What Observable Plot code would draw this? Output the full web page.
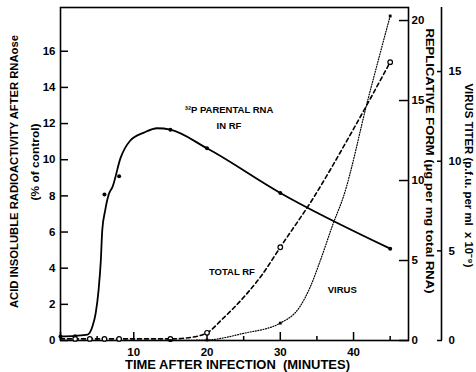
<!DOCTYPE html>
<html><head><meta charset="utf-8">
<script src="https://cdn.jsdelivr.net/npm/d3@7"></script>
<script src="https://cdn.jsdelivr.net/npm/@observablehq/plot@0.6"></script>
<style>
html,body{margin:0;padding:0;background:#fff;}
</style>
</head><body><div id="chart"></div>
<script>
// ---- data ----
// 32P parental RNA in RF (left axis, % of control)
const p32Time  = [0, 2, 6, 8, 15, 20, 30, 45];
const p32Value = [0.22, 0.24, 8.07, 9.08, 11.66, 10.63, 8.16, 5.08];
// hand-drawn smooth curve through the 32P points
const p32CurveTime  = [0, 2, 3.7, 4.4, 4.8, 5.2, 5.5, 5.7, 6.1, 6.6, 7.1, 8.2, 9.5, 11.4, 13.2, 15, 20, 30, 45];
const p32CurveValue = [0.22, 0.26, 0.33, 0.83, 1.5, 2.8, 4.4, 6.1, 7.2, 8.1, 8.5, 10.1, 11.05, 11.5, 11.74, 11.66, 10.63, 8.16, 5.08];
// total RF (replicative form axis, ug per mg total RNA)
const rfTime  = [2, 4, 6, 8, 15, 20, 30, 45];
const rfValue = [0.1, 0.1, 0.1, 0.1, 0.1, 0.48, 5.83, 17.4];
const rfCurveTime  = [0, 2, 4, 6, 8, 15, 17, 20, 22, 25, 27.5, 30, 34.5, 39.6, 45];
const rfCurveValue = [0.1, 0.1, 0.1, 0.1, 0.1, 0.1, 0.15, 0.48, 1.3, 2.7, 4.1, 5.83, 8.9, 12.9, 17.4];
// virus titer (p.f.u. per ml x 10^-9)
const virusTime  = [15, 20, 30, 45];
const virusValue = [0, 0.03, 0.97, 18.1];
const virusCurveTime  = [15, 20, 25, 30, 32.7, 34.1, 35.5, 37.2, 38.6, 42, 45];
const virusCurveValue = [0, 0.03, 0.4, 0.97, 1.9, 3.0, 4.5, 6.5, 8.0, 13.5, 18.1];

// ticks
const xMajorTicks = [0, 10, 20, 30, 40];
const xMinorTicks = [5, 15, 25, 35, 45];
const leftTicks  = [0, 2, 4, 6, 8, 10, 12, 14, 16];
const rfTicks    = [0, 5, 10, 15, 20];
const virusTicks = [0, 5, 10, 15];

// labels
const leftTitle  = "ACID INSOLUBLE RADIOACTIVITY AFTER RNAose";
const leftSub    = "(% of control)";
const rfTitle    = "REPLICATIVE FORM (µg per mg total RNA)";
const virusTitle = "VIRUS TITER (p.f.u. per ml\u00a0\u00a0x 10⁻⁹)";
const xTitle     = "TIME AFTER INFECTION\u00a0\u00a0(MINUTES)";
const noteText = ["³²P PARENTAL RNA", "IN RF", "TOTAL RF", "VIRUS"];
const noteTime = [23.0, 23.0, 23.4, 38.45];
const noteLevel = [12.75, 11.85, 3.77, 2.8];

// ---- scale setup ----
const xDomain = [0, 47.5];
const yDomain = [0, 18.42];
const kRF = 16 / 18.08;     // RF units -> left-axis units
const kV  = 17.93 / 18.08;  // virus units -> left-axis units

const p32 = p32Time.map((t, i) => ({t, v: p32Value[i]}));
const p32Curve = p32CurveTime.map((t, i) => ({t, v: p32CurveValue[i]}));
const rf = rfTime.map((t, i) => ({t, v: rfValue[i] * kRF}));
const rfCurve = rfCurveTime.map((t, i) => ({t, v: rfCurveValue[i] * kRF}));
const virus = virusTime.map((t, i) => ({t, v: virusValue[i] * kV}));
const virusCurve = virusCurveTime.map((t, i) => ({t, v: virusCurveValue[i] * kV}));
const notes = noteText.map((text, i) => ({text, t: noteTime[i], v: noteLevel[i]}));

const font = "'Liberation Sans', Arial, Helvetica, sans-serif";

const chart = Plot.plot({
  width: 476, height: 372,
  marginLeft: 60, marginRight: 68, marginTop: 7, marginBottom: 32,
  x: {domain: xDomain},
  y: {domain: yDomain},
  style: {fontFamily: font, fontWeight: "bold", fontSize: "11px", background: "white", color: "black", overflow: "visible"},
  marks: [
    Plot.frame({stroke: "black", strokeWidth: 1.6}),
    Plot.ruleX([xDomain[1]], {dx: 33, stroke: "black", strokeWidth: 1.6}),
    // x axis (ticks inward)
    Plot.axisX(xMajorTicks, {anchor: "bottom", label: null, tickSize: -8, tickPadding: 15, strokeWidth: 1.5,
      tickFormat: d => d === 0 ? "" : String(d), fontSize: 11.5}),
    Plot.axisX(xMinorTicks, {anchor: "bottom", label: null, tickSize: -4, strokeWidth: 1.5, tickFormat: () => ""}),
    // left axis
    Plot.axisY(leftTicks, {anchor: "left", label: null, tickSize: -8, tickPadding: 13, strokeWidth: 1.5, fontSize: 11.5}),
    // RF axis
    Plot.axisY(rfTicks.map(v => v * kRF), {anchor: "right", label: null, tickSize: -10, tickPadding: 13, strokeWidth: 1.5,
      fontSize: 11.5, tickFormat: d => String(Math.round(d / kRF))}),
    // virus axis
    Plot.axisY(virusTicks.map(v => v * kV), {anchor: "right", label: null, dx: 33, tickSize: -5, tickPadding: 12, strokeWidth: 1.5,
      fontSize: 11.5, tickFormat: d => String(Math.round(d / kV))}),
    // series
    Plot.line(p32Curve, {x: "t", y: "v", curve: "monotone-x", stroke: "black", strokeWidth: 1.8}),
    Plot.dot(p32, {x: "t", y: "v", r: 2, fill: "black"}),
    Plot.line(rfCurve, {x: "t", y: "v", curve: "monotone-x", stroke: "black", strokeWidth: 1.6, strokeDasharray: "4,3"}),
    Plot.dot(rf, {x: "t", y: "v", r: 2.3, fill: "white", stroke: "black", strokeWidth: 1.2}),
    Plot.line(virusCurve, {x: "t", y: "v", curve: "monotone-x", stroke: "black", strokeWidth: 1.2, strokeDasharray: "1,1.6"}),
    Plot.dot(virus, {x: "t", y: "v", r: 1.6, fill: "black", symbol: "square"}),
    // annotations
    Plot.text(notes, {x: "t", y: "v", text: "text", fontSize: 9.5, fontWeight: "bold"}),
    // axis titles
    Plot.text([leftTitle], {frameAnchor: "left", textAnchor: "middle", rotate: -90, dx: -46, dy: -2.5, fontSize: 11, fontWeight: "bold"}),
    Plot.text([leftSub], {frameAnchor: "left", textAnchor: "middle", rotate: -90, dx: -25, dy: -12, fontSize: 11, fontWeight: "bold"}),
    Plot.text([rfTitle], {frameAnchor: "right", textAnchor: "middle", rotate: 90, dx: 21, dy: -13, fontSize: 11, fontWeight: "bold"}),
    Plot.text([virusTitle], {frameAnchor: "right", textAnchor: "middle", rotate: 90, dx: 60, dy: 1.5, fontSize: 11, fontWeight: "bold"}),
    Plot.text([xTitle], {frameAnchor: "bottom", dx: 3, dy: 28, fontSize: 12.5, fontWeight: "bold"})
  ]
});
// fit title text lengths to the reference
const fitLengths = new Map([[leftTitle, 273], [leftSub, 77], [rfTitle, 265], [virusTitle, 184], [xTitle, 225]]);
d3.select(chart).selectAll("text").each(function() {
  const L = fitLengths.get(this.textContent);
  if (L) { this.setAttribute("textLength", L); this.setAttribute("lengthAdjust", "spacingAndGlyphs"); }
});
document.getElementById("chart").appendChild(chart);
</script>
</body></html>
